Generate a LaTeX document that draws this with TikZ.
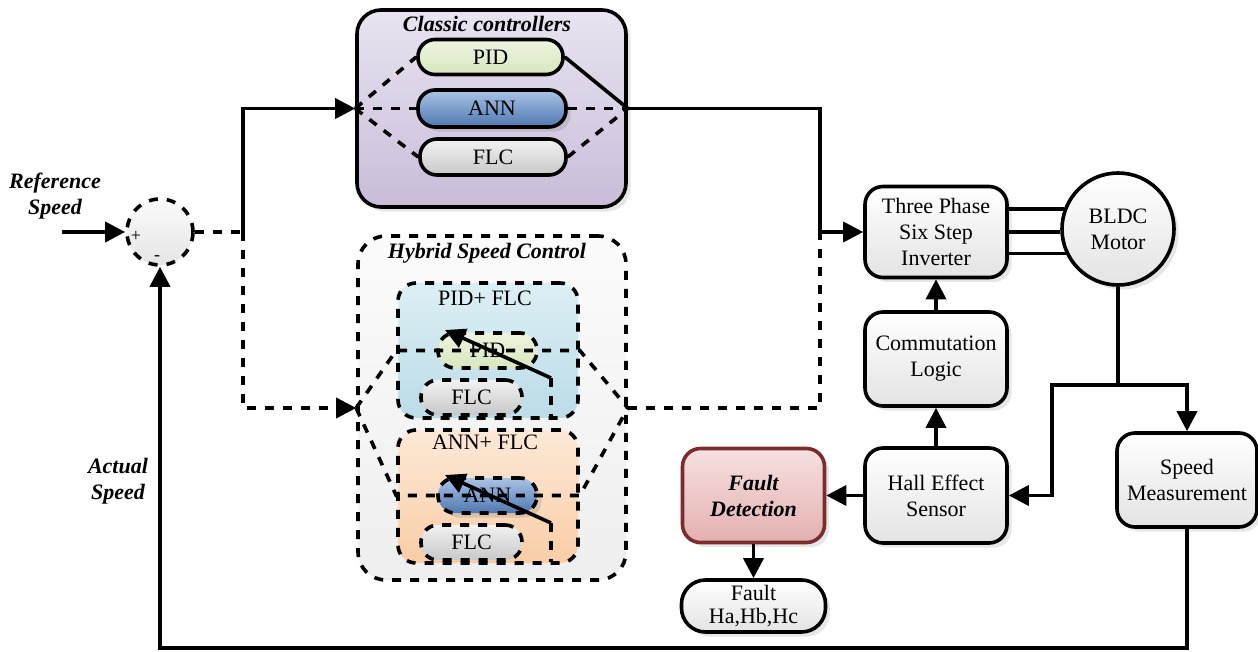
\documentclass[tikz,border=0pt]{standalone}
\usepackage{fontspec}
\setmainfont{Liberation Serif}
\usetikzlibrary{positioning,arrows.meta,shapes.geometric,shadows,calc}

\definecolor{lavtop}{HTML}{E9E4F0}
\definecolor{lavbot}{HTML}{C8BCD9}
\definecolor{pidtop}{HTML}{EEF4E0}
\definecolor{pidbot}{HTML}{D8E6BE}
\definecolor{anntop}{HTML}{A9C3E6}
\definecolor{annbot}{HTML}{4F78B0}
\definecolor{flctop}{HTML}{F2F2F2}
\definecolor{flcbot}{HTML}{C8C8C8}
\definecolor{bluetop}{HTML}{DDEFF5}
\definecolor{bluebot}{HTML}{BBDCE7}
\definecolor{orgtop}{HTML}{FDE9D7}
\definecolor{orgbot}{HTML}{F9CDA6}
\definecolor{faulttop}{HTML}{F6E0E0}
\definecolor{faultbot}{HTML}{E4B0B0}
\definecolor{faultred}{HTML}{7B2C2C}

\tikzset{
  blk/.style={draw, line width=1.8pt, rounded corners=9pt, align=center,
    top color=white, bottom color=gray!22, minimum width=71pt,
    minimum height=47pt, drop shadow={opacity=.2}},
  pill/.style={draw, line width=1.8pt, rounded corners=8.5pt,
    minimum height=17.5pt, inner sep=1pt},
  dpill/.style={pill, dash pattern=on 4.5pt off 4.5pt},
  flow/.style={line width=1.8pt},
  dflow/.style={line width=1.8pt, dash pattern=on 4.5pt off 4.5pt},
  arr/.style={flow, -{Triangle[length=10pt,width=10pt]}},
  darr/.style={dflow, -{Triangle[length=10pt,width=10pt]}},
  ttl/.style={font=\fontsize{11}{13}\selectfont\bfseries\itshape, align=center},
}

\begin{document}
\begin{tikzpicture}[x=0.5pt, y=-0.5pt, font=\fontsize{11}{13}\selectfont]
\useasboundingbox (0,0) rectangle (1258,652);

% Summing junction
\node[circle, draw, dflow, minimum size=33pt, inner sep=0pt,
      top color=gray!4, bottom color=gray!20] (sum) at (160,232) {};
\node[font=\small] (plus) at (136,236) {+};
\node[font=\small] (minus) at (157,258) {-};
\node[ttl] (refl) at (55,196) {Reference\\Speed};
\node[ttl] (actual) at (118,481) {Actual\\Speed};
\coordinate (refin) at (62,232);
\draw[arr] (refin) -- (sum.west);

% Classic controllers
\node[draw, line width=1.8pt, rounded corners=12pt,
      minimum width=134.5pt, minimum height=98.5pt,
      top color=lavtop, bottom color=lavbot,
      drop shadow={opacity=.2}] (classic) at (491.5,108.5) {};
\node[ttl] (classicl) at (487,24) {Classic controllers};
\node[pill, minimum width=72.5pt, top color=pidtop, bottom color=pidbot] (pid) at (490.5,57) {PID};
\node[pill, minimum width=74pt, minimum height=18.5pt, top color=anntop,
      bottom color=annbot, drop shadow={opacity=.25}] (ann) at (492,108.5) {ANN};
\node[pill, minimum width=73pt, minimum height=18pt, top color=flctop, bottom color=flcbot] (flc) at (493,157) {FLC};

\coordinate (cin) at (classic.west);
\coordinate (cout) at (classic.east);
\draw[dflow] (cin) -- (pid.west);
\draw[dflow] (cin) -- (ann.west);
\draw[dflow] (cin) -- (flc.west);
\draw[flow] (pid.east) -- (cout);
\draw[dflow] (ann.east) -- (cout);
\draw[dflow] (flc.east) -- (cout);

% Hybrid speed control
\node[draw, dflow, rounded corners=14pt, minimum width=134pt, minimum height=172pt,
      top color=gray!3, bottom color=gray!13] (hybrid) at (492,408) {};
\node[ttl] (hybridl) at (487,253) {Hybrid Speed Control};

\node[draw, dflow, rounded corners=9pt, minimum width=90pt, minimum height=67.5pt,
      top color=bluetop, bottom color=bluebot] (pf) at (488,350.5) {};
\node (pfl) at (485,298) {PID+ FLC};
\node[dpill, minimum width=49.5pt, top color=pidtop, bottom color=pidbot] (hpid) at (487.5,350.5) {PID};
\node[dpill, minimum width=50.5pt, top color=flctop, bottom color=flcbot] (hflca) at (471.5,397.5) {FLC};

\node[draw, dflow, rounded corners=9pt, minimum width=90pt, minimum height=66.5pt,
      top color=orgtop, bottom color=orgbot] (af) at (488,496.5) {};
\node (afl) at (485,442) {ANN+ FLC};
\node[dpill, minimum width=49.5pt, top color=anntop, bottom color=annbot,
      drop shadow={opacity=.25}] (hann) at (487.5,495.5) {ANN};
\node[dpill, minimum width=50.5pt, top color=flctop, bottom color=flcbot] (hflcb) at (471.5,542.5) {FLC};

\coordinate (hin) at (hybrid.west);
\coordinate (hout) at (hybrid.east);
\draw[dflow] (hin) -- (pf.west |- hpid) -- (pf.east |- hpid) -- (hout);
\draw[dflow] (hin) -- (af.west |- hann) -- (af.east |- hann) -- (hout);

\coordinate (swa) at (551,378);
\coordinate (swb) at (445,330);
\coordinate (swc) at (551,523);
\coordinate (swd) at (445,475);
\draw[dflow] (swa) -- (swa |- hflca.south);
\draw[dflow] (swc) -- (swc |- hflcb.south);
\draw[arr] (swa) -- (swb);
\draw[arr] (swc) -- (swd);

% Inverter, motor and sensors
\node[blk, minimum height=45.5pt] (inv) at (936,232) {Three Phase\\Six Step\\Inverter};
\node[circle, draw, line width=1.8pt, minimum size=56pt, inner sep=0pt, align=center,
      top color=white, bottom color=gray!22, drop shadow={opacity=.2}] (motor) at (1118,229) {BLDC\\Motor};
\node[blk] (comm) at (936,359) {Commutation\\Logic};
\node[blk, minimum height=47.5pt] (hall) at (936,495.5) {Hall Effect\\Sensor};
\node[blk, minimum width=70pt] (speed) at (1187,480) {Speed\\Measurement};
\node[blk, draw=faultred, top color=faulttop, bottom color=faultbot,
      font=\fontsize{11}{13}\selectfont\bfseries\itshape] (fault) at (753.5,495.5) {Fault\\Detection};
\node[blk, minimum width=72pt, minimum height=26pt, rounded corners=12pt,
      inner sep=1pt] (fout) at (753.5,606) {Fault\\[-1.5pt]Ha,Hb,Hc};

\draw[flow] (motor.160.2) -- (motor.160.2 -| inv.east);
\draw[flow] (motor.183.1) -- (motor.183.1 -| inv.east);
\draw[flow] (motor.205.4) -- (motor.205.4 -| inv.east);

% Forward paths
\coordinate (split) at (243,232);
\coordinate (merge) at (820,232);
\draw[dflow] (sum.east) -- (split);
\draw[arr] (split) |- (cin);
\draw[darr] (split) |- (hin);
\draw[dflow] (hout) -| (merge);
\draw[arr] (cout) -| (merge) -- (inv.west);

\draw[arr] (comm) -- (inv);
\draw[arr] (hall) -- (comm);
\draw[arr] (hall) -- (fault);
\draw[arr] (fault) -- (fout);

% Feedback
\coordinate (tap) at (1118,385);
\coordinate (tapl) at (1052,385);
\coordinate (fbase) at (0,648);
\draw[flow] (motor) -- (tap);
\draw[arr] (tap) -| (speed.north);
\draw[arr] (tap) -- (tapl) |- (hall.east);
\draw[arr] (speed.south) -- (speed.south |- fbase) -| (sum.south);

\end{tikzpicture}
\end{document}
